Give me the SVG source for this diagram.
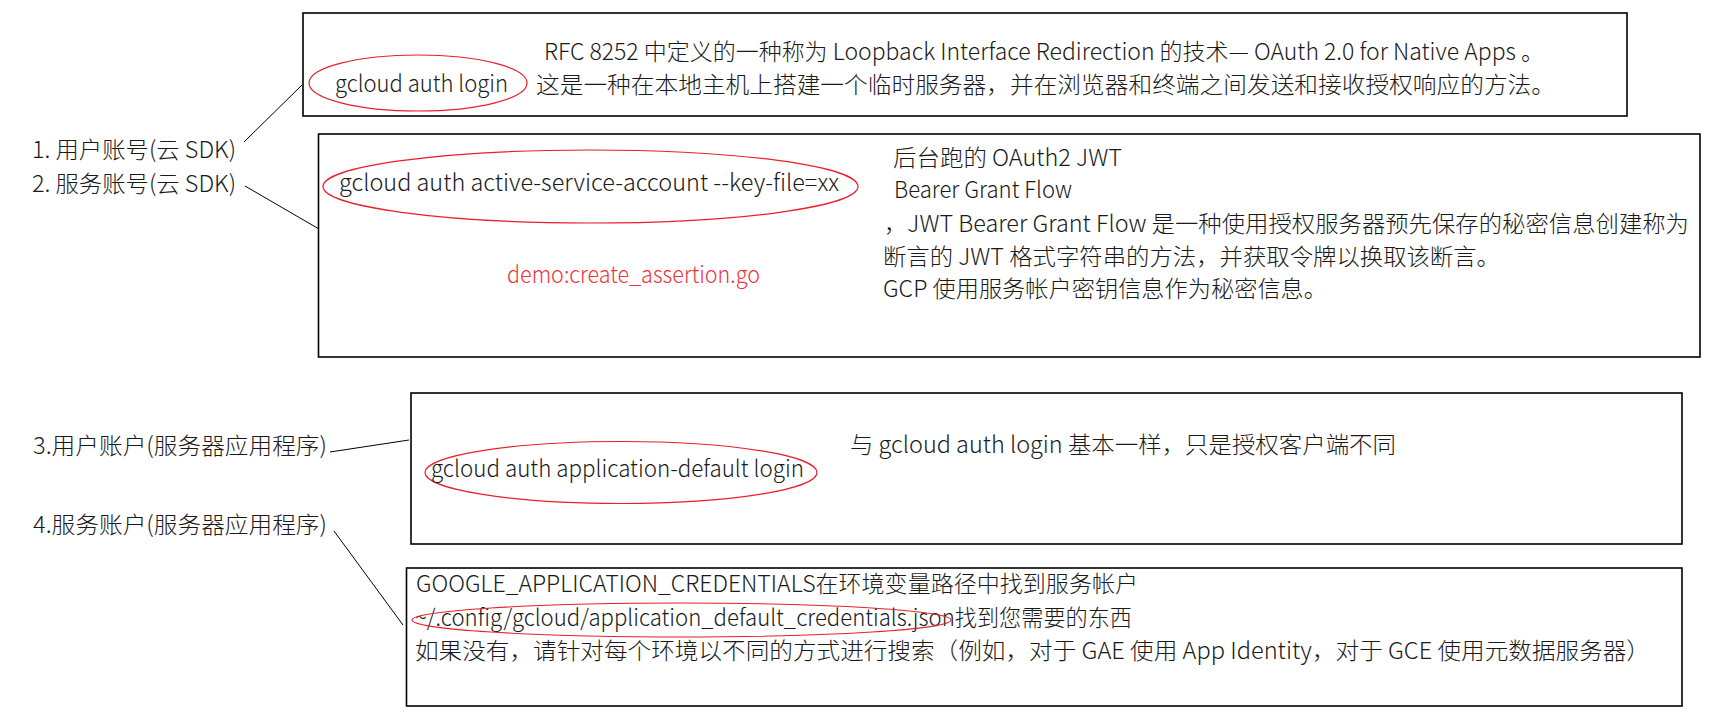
<svg xmlns="http://www.w3.org/2000/svg" width="1712" height="724" viewBox="0 0 1712 724">
<style>
.box{fill:#fff;stroke:#000;stroke-width:1.6}
.ell{fill:none;stroke:#e8202a;stroke-width:1.2}
.t{font-family:"Noto Sans CJK SC","Noto Sans",sans-serif;font-size:23px;font-weight:300;fill:#1a1a1a}
.red{fill:#f0303a}
.conn{stroke:#000;stroke-width:1;fill:none}
</style>
<rect width="1712" height="724" fill="#fff"/>
<g id="node-box1">
<rect class="box" x="303" y="13" width="1324" height="103"/>
<ellipse class="ell" cx="418" cy="83" rx="109" ry="28"/>
<text class="t" x="335" y="92" textLength="173" lengthAdjust="spacingAndGlyphs">gcloud auth login</text>
<text class="t" x="544" y="60" textLength="1000" lengthAdjust="spacingAndGlyphs">RFC 8252 中定义的一种称为 Loopback Interface Redirection 的技术— OAuth 2.0 for Native Apps 。</text>
<text class="t" x="536" y="93" textLength="1019" lengthAdjust="spacingAndGlyphs">这是一种在本地主机上搭建一个临时服务器，并在浏览器和终端之间发送和接收授权响应的方法。</text>
</g>
<g id="node-box2">
<rect class="box" x="318.5" y="134" width="1381.5" height="223"/>
<ellipse class="ell" cx="590.5" cy="186.5" rx="267.5" ry="36.5"/>
<text class="t" x="339" y="191" textLength="500" lengthAdjust="spacingAndGlyphs">gcloud auth active-service-account --key-file=xx</text>
<text class="t red" x="507" y="283" textLength="253" lengthAdjust="spacingAndGlyphs">demo:create_assertion.go</text>
<text class="t" x="893" y="166" textLength="229" lengthAdjust="spacingAndGlyphs">后台跑的 OAuth2 JWT</text>
<text class="t" x="894" y="198" textLength="178" lengthAdjust="spacingAndGlyphs">Bearer Grant Flow</text>
<text class="t" x="884" y="232" textLength="805" lengthAdjust="spacingAndGlyphs">，JWT Bearer Grant Flow 是一种使用授权服务器预先保存的秘密信息创建称为</text>
<text class="t" x="883" y="265" textLength="617" lengthAdjust="spacingAndGlyphs">断言的 JWT 格式字符串的方法，并获取令牌以换取该断言。</text>
<text class="t" x="883" y="297" textLength="444" lengthAdjust="spacingAndGlyphs">GCP 使用服务帐户密钥信息作为秘密信息。</text>
</g>
<g id="node-box3">
<rect class="box" x="411" y="393" width="1271" height="151"/>
<ellipse class="ell" cx="621" cy="472.5" rx="196" ry="31"/>
<text class="t" x="431" y="477" textLength="373" lengthAdjust="spacingAndGlyphs">gcloud auth application-default login</text>
<text class="t" x="850" y="453" textLength="546" lengthAdjust="spacingAndGlyphs">与 gcloud auth login 基本一样，只是授权客户端不同</text>
</g>
<g id="node-box4">
<rect class="box" x="406.5" y="568" width="1275.5" height="138"/>
<text class="t" x="416" y="592" textLength="722" lengthAdjust="spacingAndGlyphs">GOOGLE_APPLICATION_CREDENTIALS在环境变量路径中找到服务帐户</text>
<text class="t" x="415" y="626" textLength="717" lengthAdjust="spacingAndGlyphs">~/.config/gcloud/application_default_credentials.json找到您需要的东西</text>
<ellipse class="ell" cx="681.5" cy="620" rx="269.5" ry="17"/>
<text class="t" x="415" y="659" textLength="1235" lengthAdjust="spacingAndGlyphs">如果没有，请针对每个环境以不同的方式进行搜索（例如，对于 GAE 使用 App Identity，对于 GCE 使用元数据服务器）</text>
</g>
<g id="node-label1"><text class="t" x="32" y="158" textLength="204" lengthAdjust="spacingAndGlyphs">1. 用户账号(云 SDK)</text></g>
<g id="node-label2"><text class="t" x="32" y="192" textLength="204" lengthAdjust="spacingAndGlyphs">2. 服务账号(云 SDK)</text></g>
<g id="node-label3"><text class="t" x="33" y="454" textLength="294" lengthAdjust="spacingAndGlyphs">3.用户账户(服务器应用程序)</text></g>
<g id="node-label4"><text class="t" x="33" y="533" textLength="294" lengthAdjust="spacingAndGlyphs">4.服务账户(服务器应用程序)</text></g>
<g id="connectors">
<line class="conn" x1="244" y1="142" x2="302" y2="85"/>
<line class="conn" x1="245" y1="186" x2="319" y2="229"/>
<line class="conn" x1="330" y1="452" x2="409" y2="440"/>
<line class="conn" x1="334" y1="531" x2="403" y2="625"/>
</g>
</svg>
